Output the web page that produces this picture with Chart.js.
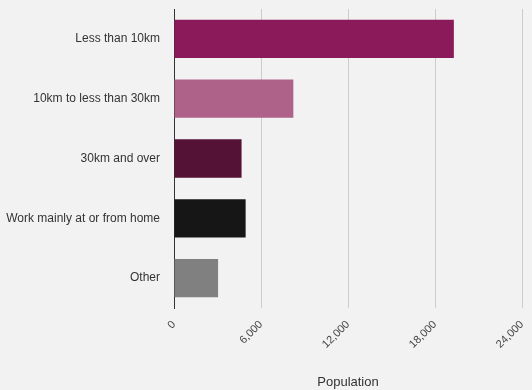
<!DOCTYPE html>
<html>
<head>
<meta charset="utf-8">
<script src="https://cdn.jsdelivr.net/npm/chart.js@4/dist/chart.umd.min.js"></script>
<style>
html,body{margin:0;padding:0;background:#f2f2f2;}
#wrap{width:532px;height:390px;position:relative;}
</style>
</head>
<body>
<div id="wrap"><canvas id="c" width="532" height="390"></canvas></div>
<script>
const categories = ["Less than 10km", "10km to less than 30km", "30km and over", "Work mainly at or from home", "Other"];
const population = [19300, 8230, 4660, 4940, 3040];
const barColors = ["#8b1a5b", "#ae6189", "#551237", "#161616", "#808080"];
const xTicks = [0, 6000, 12000, 18000, 24000];
const xTitle = "Population";

Chart.defaults.font.family = "'Liberation Sans', Arial, sans-serif";

function zeroPad(s) { s.paddingTop = 0; s.paddingBottom = 0; s.paddingLeft = 0; s.paddingRight = 0; }

new Chart(document.getElementById('c'), {
  type: 'bar',
  data: {
    labels: categories,
    datasets: [{
      data: population,
      backgroundColor: barColors,
      borderWidth: 0,
      categoryPercentage: 1,
      barPercentage: 0.64
    }]
  },
  options: {
    indexAxis: 'y',
    responsive: false,
    animation: false,
    layout: { padding: { top: 9, right: 10, left: 0, bottom: 0 } },
    plugins: { legend: { display: false }, tooltip: { enabled: false } },
    scales: {
      x: {
        min: xTicks[0],
        max: xTicks[xTicks.length - 1],
        afterBuildTicks: (s) => { s.ticks = xTicks.map(v => ({ value: v })); },
        ticks: {
          color: '#444',
          font: { size: 11 },
          minRotation: 45,
          maxRotation: 45,
          padding: 10,
          callback: (v) => v.toLocaleString('en-US')
        },
        grid: { color: '#cccccc', drawTicks: false, lineWidth: 1 },
        border: { display: false },
        title: { display: true, text: xTitle, color: '#333', font: { size: 13 }, padding: { top: 14, bottom: 0 } },
        afterFit: (s) => { s.height = 82; zeroPad(s); }
      },
      y: {
        ticks: { color: '#333', font: { size: 12 }, padding: 14 },
        grid: { display: false, drawTicks: false },
        border: { display: true, color: '#333', width: 1 },
        afterFit: (s) => { s.width = 174; zeroPad(s); }
      }
    }
  }
});
</script>
</body>
</html>
